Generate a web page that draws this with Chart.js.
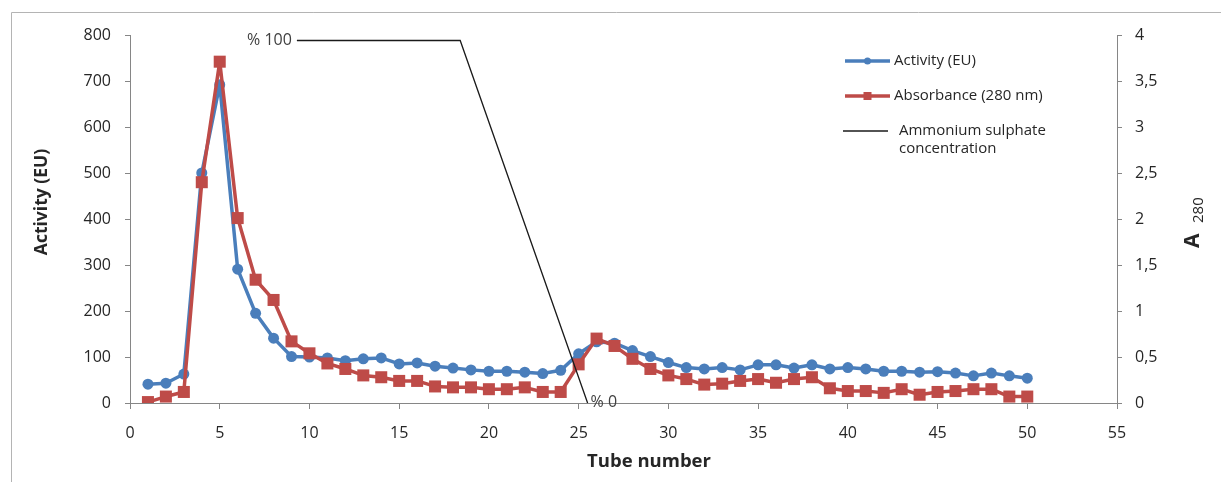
<!DOCTYPE html>
<html>
<head>
<meta charset="utf-8">
<script src="https://cdn.jsdelivr.net/npm/chart.js@4/dist/chart.umd.min.js"></script>
<style>
    html, body { margin: 0; padding: 0; background: #fff; }
    #wrap { width: 1221px; height: 482px; position: relative; }
</style>
</head>
<body>
<div id="wrap"><canvas id="elutionChart"></canvas></div>
<script>
// values
var tubes = [1, 2, 3, 4, 5, 6, 7, 8, 9, 10, 11, 12, 13, 14, 15, 16, 17, 18, 19, 20, 21, 22, 23, 24, 25,
    26, 27, 28, 29, 30, 31, 32, 33, 34, 35, 36, 37, 38, 39, 40, 41, 42, 43, 44, 45, 46, 47, 48, 49, 50];

var activity = [41, 43, 63, 500, 692, 291, 195, 141, 101, 100, 98, 92, 96, 98, 85, 87, 80, 76, 72, 69, 69, 67, 64, 71, 107,
    133, 130, 114, 101, 88, 77, 74, 77, 72, 83, 83, 76, 83, 74, 77, 74, 69, 69, 67, 68, 65, 59, 65, 59, 54];

var absorbance = [0.01, 0.07, 0.12, 2.40, 3.71, 2.01, 1.34, 1.12, 0.67, 0.54, 0.43, 0.37, 0.30, 0.28, 0.24, 0.24, 0.18, 0.17, 0.17, 0.15, 0.15, 0.17, 0.12, 0.12, 0.42,
    0.70, 0.62, 0.48, 0.37, 0.30, 0.26, 0.20, 0.21, 0.24, 0.26, 0.22, 0.26, 0.28, 0.16, 0.13, 0.13, 0.11, 0.15, 0.09, 0.12, 0.13, 0.15, 0.15, 0.07, 0.07];

// ammonium sulphate gradient (drawn on the A280 axis)
var sulphateX = [9.3, 18.4, 25.5];
var sulphateY = [3.94, 3.94, 0];
var sulphateLabels = ['% 100', '', '% 0'];

var xTicks = { min: 0, max: 55, step: 5 };
var activityTicks = { min: 0, max: 800, step: 100 };
var a280Ticks = { min: 0, max: 4, step: 0.5 };

var blue = '#4a7ebb';
var red = '#be4b48';
var axisGrey = '#868686';
var textColor = '#262626';
var fontName = '"Open Sans", sans-serif';

function toPoints(xs, ys) {
    return xs.map((x, i) => ({ x: x, y: ys[i] }));
}

//extra drawing: frame, titles, gradient labels, legend
var decorations = {
    id: 'decorations',
    beforeDraw(chart) {
        var ctx = chart.ctx;
        ctx.save();
        ctx.strokeStyle = '#b4b4b4';
        ctx.lineWidth = 1;
        ctx.beginPath();
        ctx.moveTo(11.5, 482);
        ctx.lineTo(11.5, 12.5);
        ctx.lineTo(1221, 12.5);
        ctx.stroke();
        ctx.restore();
    },
    afterDraw(chart) {
        var ctx = chart.ctx;
        var xs = chart.scales.x;
        var ys = chart.scales.y1;
        ctx.save();
        ctx.fillStyle = textColor;

        // axis titles
        ctx.font = 'bold 18.5px ' + fontName;
        ctx.textAlign = 'center';
        ctx.textBaseline = 'middle';
        ctx.fillText('Tube number', 649, 462);

        ctx.save();
        ctx.translate(42, 202);
        ctx.rotate(-Math.PI / 2);
        ctx.font = 'bold 17.5px ' + fontName;
        ctx.fillText('Activity (EU)', 0, 0);
        ctx.restore();

        ctx.save();
        ctx.rotate(-Math.PI / 2);
        ctx.textAlign = 'left';
        ctx.textBaseline = 'alphabetic';
        ctx.font = 'bold 21px ' + fontName;
        ctx.fillText('A', -248, 1199);
        ctx.font = '15px ' + fontName;
        ctx.fillText('280', -223, 1203);
        ctx.restore();

        // gradient labels
        ctx.font = '16px ' + fontName;
        ctx.fillStyle = '#404040';
        ctx.textBaseline = 'middle';
        ctx.textAlign = 'right';
        ctx.fillText(sulphateLabels[0], xs.getPixelForValue(sulphateX[0]) - 5, ys.getPixelForValue(sulphateY[0]));
        ctx.textAlign = 'left';
        ctx.fillText(sulphateLabels[2], xs.getPixelForValue(sulphateX[2]) + 3, ys.getPixelForValue(sulphateY[2]) - 1);

        // legend
        var ds = chart.data.datasets;
        var lx = 845, lw = 45, tx = 894;
        var rows = [61, 96, 131];

        ctx.lineWidth = 3.5;
        ctx.strokeStyle = ds[0].borderColor;
        ctx.beginPath(); ctx.moveTo(lx, rows[0]); ctx.lineTo(lx + lw, rows[0]); ctx.stroke();
        ctx.fillStyle = ds[0].borderColor;
        ctx.beginPath(); ctx.arc(lx + lw / 2, rows[0], 3.5, 0, Math.PI * 2); ctx.fill();

        ctx.strokeStyle = ds[1].borderColor;
        ctx.beginPath(); ctx.moveTo(lx, rows[1]); ctx.lineTo(lx + lw, rows[1]); ctx.stroke();
        ctx.fillStyle = ds[1].borderColor;
        ctx.fillRect(lx + lw / 2 - 4, rows[1] - 4, 8, 8);

        ctx.lineWidth = 1.3;
        ctx.strokeStyle = ds[2].borderColor;
        ctx.beginPath(); ctx.moveTo(lx - 2, rows[2]); ctx.lineTo(lx + lw - 2, rows[2]); ctx.stroke();

        ctx.fillStyle = textColor;
        ctx.font = '15px ' + fontName;
        ctx.textAlign = 'left';
        ctx.fillText(ds[0].label, tx, rows[0]);
        ctx.fillText(ds[1].label, tx, rows[1]);
        ctx.fillText('Ammonium sulphate', tx + 5, rows[2]);
        ctx.fillText('concentration', tx + 5, rows[2] + 18);

        ctx.restore();
    }
};

var ctx = document.getElementById('elutionChart').getContext('2d');

new Chart(ctx, {
    type: 'line',
    data: {
        datasets: [{
            label: 'Activity (EU)',
            data: toPoints(tubes, activity),
            yAxisID: 'y',
            borderColor: blue,
            backgroundColor: blue,
            borderWidth: 3.5,
            borderJoinStyle: 'round',
            pointStyle: 'circle',
            pointRadius: 5.5,
            pointBorderWidth: 0,
            tension: 0,
            order: 2
        }, {
            label: 'Absorbance (280 nm)',
            data: toPoints(tubes, absorbance),
            yAxisID: 'y1',
            borderColor: red,
            backgroundColor: red,
            borderWidth: 3.5,
            borderJoinStyle: 'round',
            pointStyle: 'rect',
            pointRadius: 8.5,
            pointBorderWidth: 0,
            tension: 0,
            order: 1
        }, {
            label: 'Ammonium sulphate concentration',
            data: toPoints(sulphateX, sulphateY),
            yAxisID: 'y1',
            borderColor: '#1a1a1a',
            borderWidth: 1.3,
            pointRadius: 0,
            tension: 0,
            clip: false,
            order: 0
        }]
    },
    options: {
        responsive: true,
        maintainAspectRatio: false,
        animation: false,
        layout: { padding: { top: 35, left: 0, right: 0, bottom: 0 } },
        plugins: {
            legend: { display: false },
            tooltip: { enabled: false }
        },
        scales: {
            x: {
                type: 'linear',
                min: xTicks.min,
                max: xTicks.max,
                afterFit: (s) => { s.height = 79; },
                ticks: {
                    stepSize: xTicks.step,
                    color: textColor,
                    padding: 15,
                    font: { family: fontName, size: 16 }
                },
                grid: { drawOnChartArea: false, tickLength: 6, color: axisGrey },
                border: { color: axisGrey, width: 1 }
            },
            y: {
                position: 'left',
                min: activityTicks.min,
                max: activityTicks.max,
                afterFit: (s) => { s.width = 130; },
                ticks: {
                    stepSize: activityTicks.step,
                    color: textColor,
                    padding: 14,
                    font: { family: fontName, size: 16 }
                },
                grid: { drawOnChartArea: false, tickLength: 5, color: axisGrey },
                border: { color: axisGrey, width: 1 }
            },
            y1: {
                position: 'right',
                min: a280Ticks.min,
                max: a280Ticks.max,
                afterFit: (s) => { s.width = 104; },
                ticks: {
                    stepSize: a280Ticks.step,
                    color: textColor,
                    padding: 13,
                    font: { family: fontName, size: 16 },
                    callback: (v) => String(v).replace('.', ',')
                },
                grid: { drawOnChartArea: false, tickLength: 5, color: axisGrey },
                border: { color: axisGrey, width: 1 }
            }
        }
    },
    plugins: [decorations]
});
</script>
</body>
</html>
